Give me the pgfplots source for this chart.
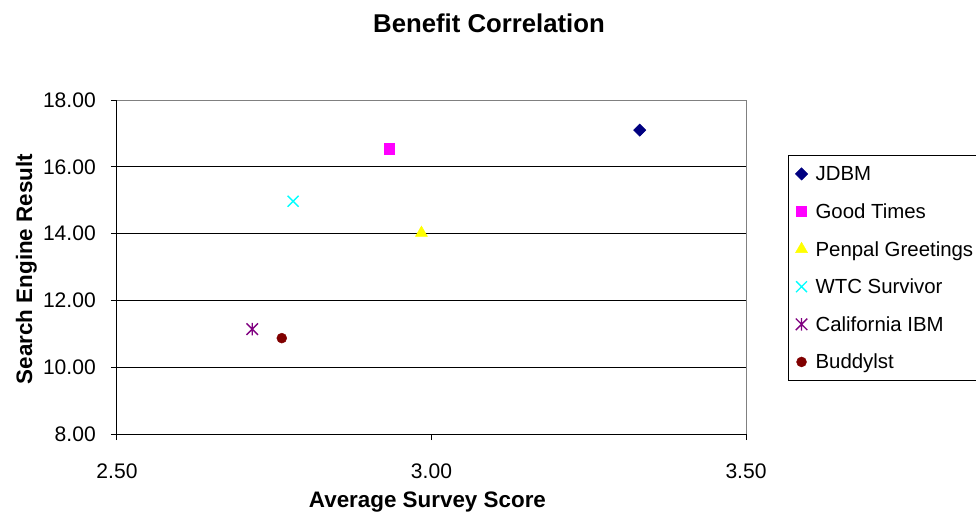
\documentclass[border=0pt]{standalone}
\usepackage{fontspec}
\setmainfont{Liberation Sans}
\usepackage{pgfplots}
\pgfplotsset{compat=1.18}

\definecolor{jdbm}{HTML}{000080}
\definecolor{goodtimes}{HTML}{FF00FF}
\definecolor{penpal}{HTML}{FFFF00}
\definecolor{wtc}{HTML}{00FFFF}
\definecolor{calibm}{HTML}{800080}
\definecolor{buddy}{HTML}{800000}
\definecolor{frame}{HTML}{808080}

% X with a vertical bar through it
\pgfdeclareplotmark{xstar}{%
  \pgfpathmoveto{\pgfqpoint{-\pgfplotmarksize}{-\pgfplotmarksize}}%
  \pgfpathlineto{\pgfqpoint{\pgfplotmarksize}{\pgfplotmarksize}}%
  \pgfpathmoveto{\pgfqpoint{-\pgfplotmarksize}{\pgfplotmarksize}}%
  \pgfpathlineto{\pgfqpoint{\pgfplotmarksize}{-\pgfplotmarksize}}%
  \pgfpathmoveto{\pgfqpoint{0pt}{-1.1\pgfplotmarksize}}%
  \pgfpathlineto{\pgfqpoint{0pt}{1.1\pgfplotmarksize}}%
  \pgfusepathqstroke}

\begin{document}
\begin{tikzpicture}
\useasboundingbox (-87.75pt,-66pt) rectangle (644.25pt,325.5pt);
\begin{axis}[
  at={(0pt,0pt)}, anchor=south west,
  scale only axis,
  width=471.75pt, height=250.5pt,
  xmin=2.5, xmax=3.5, ymin=8, ymax=18,
  xtick={2.5,3,3.5}, ytick={8,10,12,14,16,18},
  axis x line=bottom, axis y line=left,
  axis line style={-, black, line width=0.75pt},
  tick align=outside,
  major tick length=4.5pt,
  tick style={black, line width=0.75pt},
  ymajorgrids,
  grid style={black, line width=0.75pt},
  /pgf/number format/fixed,
  /pgf/number format/fixed zerofill,
  /pgf/number format/precision=2,
  /pgf/number format/assume math mode=true,
  ticklabel style={font=\fontsize{15.8}{18}\selectfont, inner sep=0pt},
  yticklabel style={anchor=east, xshift=-11.25pt},
  xticklabel style={anchor=north, yshift=-17.3pt},
  title={Benefit Correlation},
  title style={at={(axis description cs:0.5914,1.1796)}, anchor=base,
    font=\bfseries\fontsize{19.3}{22}\selectfont, inner sep=0pt},
  xlabel={Average Survey Score},
  every axis x label/.style={at={(axis description cs:0.4936,-0.2186)}, anchor=base,
    font=\bfseries\fontsize{16.8}{20}\selectfont, inner sep=0pt},
  ylabel={Search Engine Result},
  every axis y label/.style={at={(axis description cs:-0.1351,0.494)}, anchor=base,
    rotate=90, font=\bfseries\fontsize{16.8}{20}\selectfont, inner sep=0pt},
  legend style={at={(axis description cs:1.0668,0.835)}, anchor=north west,
    draw=black, line width=0.75pt, fill=white,
    inner xsep=5.25pt, inner ysep=8pt, row sep=16.7pt, column sep=6pt,
    nodes={inner sep=0pt, text height=11pt, text depth=0.5pt,
      font=\fontsize{15.3}{18}\selectfont}},
  legend cell align=left,
  legend image code/.code={\draw[#1] plot coordinates {(4.5pt,0pt)};},
  after end axis/.code={
    \draw[frame, line width=0.75pt] (rel axis cs:0,1) -- (rel axis cs:1,1) -- (rel axis cs:1,0);
  },
]
\addplot[only marks, mark=square*, mark size=3.2pt,
  mark options={rotate=45, draw=jdbm, fill=jdbm, line width=0.5pt}]
  coordinates {(3.331,17.10)};
\addlegendentry{JDBM}
\addplot[only marks, mark=square*, mark size=3.8pt,
  mark options={draw=goodtimes, fill=goodtimes, line width=0.3pt}]
  coordinates {(2.933,16.54)};
\addlegendentry{Good Times}
\addplot[only marks, mark=triangle*, mark size=5.2pt,
  mark options={draw=penpal, fill=penpal, line width=0.3pt}]
  coordinates {(2.984,14.02)};
\addlegendentry{Penpal Greetings}
\addplot[only marks, mark=x, mark size=5.8pt,
  mark options={draw=wtc, line width=1pt}]
  coordinates {(2.780,14.97)};
\addlegendentry{WTC Survivor}
\addplot[only marks, mark=xstar, mark size=4.3pt,
  mark options={draw=calibm, line width=1pt}]
  coordinates {(2.715,11.14)};
\addlegendentry{California IBM}
\addplot[only marks, mark=*, mark size=3.75pt,
  mark options={draw=buddy, fill=buddy, line width=0.3pt}]
  coordinates {(2.762,10.87)};
\addlegendentry{Buddylst}
\end{axis}
\end{tikzpicture}
\end{document}
